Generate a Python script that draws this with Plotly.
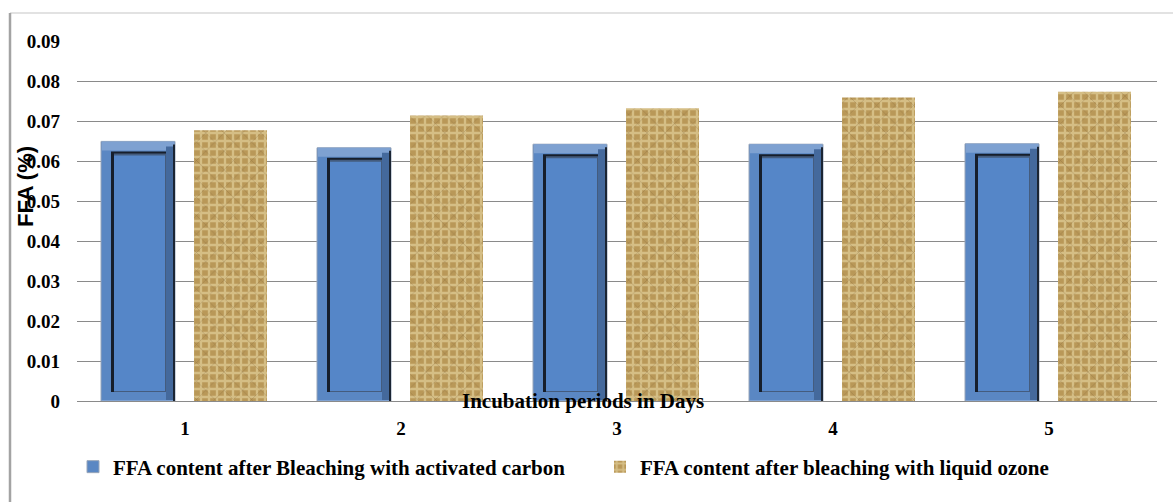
import plotly.graph_objects as go

# FFA content (%) measured over the incubation period
days = ["1", "2", "3", "4", "5"]
ffa_activated_carbon = [0.0649, 0.0633, 0.0642, 0.0642, 0.0643]
ffa_liquid_ozone = [0.0677, 0.0714, 0.0732, 0.0759, 0.0773]
y_ticks = [0, 0.01, 0.02, 0.03, 0.04, 0.05, 0.06, 0.07, 0.08, 0.09]

name_carbon = "FFA content after Bleaching with activated carbon"
name_ozone = "FFA content after bleaching with liquid ozone"

# plot-area geometry in pixels
W, H = 1173, 502
L, R, T, B = 77, 16, 41, 101
plot_w = W - L - R
plot_h = H - T - B
y_max = 0.09
px_x = 1.0 / (plot_w / len(days))   # category units per pixel
px_y = y_max / plot_h               # data units per pixel


def py(pixel_y):
    """Paper y coordinate of a pixel row."""
    return (T + plot_h - pixel_y) / plot_h


def px(pixel_x):
    """Paper x coordinate of a pixel column."""
    return (pixel_x - L) / plot_w


SERIF = "Liberation Serif, Times New Roman, serif"
SANS = "Liberation Sans, Arial, sans-serif"

fig = go.Figure()


def bevel_layer(values, left, width, inset_l, inset_r, inset_t, inset_b,
                color, line_color=None, line_width=0, name=None, legend=False):
    """One layer of the bevelled bar, inset (in px) from the outer bar."""
    off = (left + inset_l) * px_x
    wid = (width - inset_l - inset_r) * px_x
    base = [inset_b * px_y] * len(values)
    heights = [v - (inset_t + inset_b) * px_y for v in values]
    fig.add_trace(go.Bar(
        x=days, y=heights, base=base,
        offset=off, width=wid,
        marker=dict(color=color,
                    line=dict(color=line_color or color, width=line_width)),
        name=name or "", showlegend=legend, hoverinfo="skip",
    ))


# activated carbon series: bevelled blue bars
c_left, c_width = -84, 74
bevel_layer(ffa_activated_carbon, c_left, c_width, 0, 0, 0, 0,
            "#5A87C3", "#98A6BA", 1, name=name_carbon, legend=True)
bevel_layer(ffa_activated_carbon, c_left, c_width, 1, 1, 0, 0, "#7EA1D1")
bevel_layer(ffa_activated_carbon, c_left, c_width, 1, 1, 9, 1, "#5A87C3")
bevel_layer(ffa_activated_carbon, c_left, c_width, 65, 0, 5, 1, "#44699C")
bevel_layer(ffa_activated_carbon, c_left, c_width, 72, 0, 3, 0, "#1B2533")
bevel_layer(ffa_activated_carbon, c_left, c_width, 10, 9, 10, 9, "#161E2B")
bevel_layer(ffa_activated_carbon, c_left, c_width, 13, 9, 12, 9, "#445C7E")
bevel_layer(ffa_activated_carbon, c_left, c_width, 13, 10, 14, 10, "#5586C8")

# liquid ozone series: woven burlap texture
o_left, o_width = 9, 73
fig.add_trace(go.Bar(
    x=days, y=ffa_liquid_ozone,
    offset=o_left * px_x, width=o_width * px_x,
    marker=dict(color="#C6A76C", line=dict(width=0),
                pattern=dict(shape="+", bgcolor="#B99858", fgcolor="#F1E3B2",
                             size=8, solidity=0.5)),
    name=name_ozone, showlegend=True, hoverinfo="skip",
))
fig.add_trace(go.Bar(
    x=days, y=ffa_liquid_ozone,
    offset=o_left * px_x, width=o_width * px_x,
    marker=dict(color="rgba(0,0,0,0)", line=dict(width=0),
                pattern=dict(shape="x", bgcolor="rgba(0,0,0,0)",
                             fgcolor="rgba(105,75,35,0.6)", size=13,
                             solidity=0.1)),
    showlegend=False, hoverinfo="skip",
))

grid = "#8A8A8A"
fig.update_layout(
    width=W, height=H,
    margin=dict(l=L, r=R, t=T, b=B, pad=0),
    paper_bgcolor="white", plot_bgcolor="white",
    barmode="overlay",
    font=dict(family=SERIF, size=19, color="black"),
    xaxis=dict(
        type="category", categoryorder="array", categoryarray=days,
        range=[-0.5, len(days) - 0.5],
        showgrid=False, showline=True, linecolor=grid, linewidth=1.4,
        ticks="", tickfont=dict(family=SERIF, size=19, color="black",
                                weight="bold"),
        ticklabelstandoff=10,
    ),
    yaxis=dict(
        range=[0, y_max], tickvals=y_ticks,
        ticktext=[("%.2f" % v) if v else "0" for v in y_ticks],
        showgrid=True, gridcolor=grid, gridwidth=1.4,
        zeroline=False, showline=False, ticks="",
        tickfont=dict(family=SERIF, size=19, color="black", weight="bold"),
        ticklabelstandoff=16,
    ),
    legend=dict(
        orientation="h", x=px(73), xanchor="left",
        y=py(467), yanchor="middle",
        font=dict(family=SERIF, size=21, color="black", weight="bold"),
        traceorder="normal", itemwidth=30, entrywidth=482,
        bgcolor="rgba(0,0,0,0)",
    ),
    showlegend=True,
    annotations=[
        dict(text="<b>FFA (%)</b>", textangle=-90, showarrow=False,
             xref="paper", yref="paper", x=px(25), y=py(187),
             xanchor="center", yanchor="middle",
             font=dict(family=SANS, size=22, color="black")),
        dict(text="<b>Incubation periods in Days</b>", showarrow=False,
             xref="paper", yref="paper", x=px(583), y=py(401),
             xanchor="center", yanchor="middle",
             font=dict(family=SERIF, size=21, color="black")),
    ],
    shapes=[
        dict(type="line", xref="paper", yref="paper",
             x0=px(10), x1=px(W), y0=py(13), y1=py(13),
             line=dict(color="#D9D9D9", width=1.5)),
        dict(type="line", xref="paper", yref="paper",
             x0=px(10), x1=px(10), y0=py(13), y1=py(H),
             line=dict(color="#A3A3A3", width=2.5)),
    ],
)

fig.write_html("out.html")
